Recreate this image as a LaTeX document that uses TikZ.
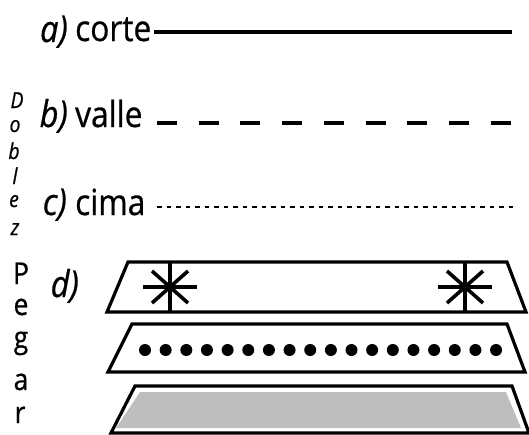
\documentclass[tikz,border=0pt]{standalone}
\usepackage{fontspec}
\setmainfont{Open Sans}[FakeStretch=0.88,FakeBold=0.7]
\definecolor{fillgray}{RGB}{190,190,190}
\begin{document}
\begin{tikzpicture}[x=1pt,y=-1pt,
  lbl/.style={inner sep=0pt,font=\fontsize{36}{36}\selectfont},
  ilbl/.style={inner sep=0pt,font=\fontsize{37}{37}\selectfont\itshape},
  vlet/.style={inner sep=0pt,anchor=base,font=\fontsize{22}{22}\selectfont\itshape},
  plet/.style={inner sep=0pt,anchor=base,font=\fontsize{30}{30}\selectfont},
  thick line/.style={line width=3.4pt},
  trap/.style={line width=3.2pt,line join=miter},
  ast/.style={line width=3.6pt}]
\useasboundingbox (0,0) rectangle (529,434);
% a) corte
\node[ilbl,anchor=base east] (la) at (68,42) {a)};
\node[lbl,anchor=base west] (ta) at (75,41) {corte};
\coordinate (a1) at (154,32);
\coordinate (a2) at (512,32);
\draw[thick line] (a1) -- (a2);
% b) valle
\node[ilbl,anchor=base east] (lb) at (68,127) {b)};
\node[lbl,anchor=base west] (tb) at (75,127) {valle};
\coordinate (b1) at (157,123);
\coordinate (b2) at (511,123);
\draw[thick line,dash pattern=on 20pt off 21.7pt] (b1) -- (b2);
% c) cima
\node[ilbl,anchor=base east] (lc) at (67,215) {c)};
\node[lbl,anchor=base west] (tc) at (75,215) {cima};
\coordinate (c1) at (157,207);
\coordinate (c2) at (513,207);
\draw[line width=2.8pt,dash pattern=on 4.5pt off 5pt] (c1) -- (c2);
% Doblez
\node[vlet] (d1) at (17,108) {D};
\node[vlet] (d2) at (15,132) {o};
\node[vlet] (d3) at (14,159) {b};
\node[vlet] (d4) at (15,184) {l};
\node[vlet] (d5) at (14,207) {e};
\node[vlet] (d6) at (15,235) {z};
% Pegar
\node[plet] (p1) at (21,284) {P};
\node[plet] (p2) at (21,315) {e};
\node[plet] (p3) at (21,348) {g};
\node[plet] (p4) at (21,390) {a};
\node[plet] (p5) at (20,423) {r};
% d)
\node[ilbl,anchor=base east] (ld) at (79,297) {d)};
% trapezoid 1
\draw[trap] (128,262) -- (507,262) -- (526,312) -- (107,312) -- cycle;
\draw[ast] (170,262) -- (170,312);
\draw[ast] (143,287) -- (197,287);
\draw[ast] (152,271) -- (188,303);
\draw[ast] (152,303) -- (188,271);
\draw[ast] (465,262) -- (465,312);
\draw[ast] (438,287) -- (492,287);
\draw[ast] (447,271) -- (483,303);
\draw[ast] (447,303) -- (483,271);
% trapezoid 2
\draw[trap] (132,324) -- (507,324) -- (525,372) -- (108,372) -- cycle;
\foreach \i in {0,...,17} {
  \fill ({145+\i*20.65},350) circle (6pt);
}
% trapezoid 3
\draw[trap] (135,386) -- (512,386) -- (529,433) -- (111,433) -- cycle;
\fill[fillgray] (140,392) -- (506,392) -- (521,428) -- (116,428) -- cycle;
\end{tikzpicture}
\end{document}
